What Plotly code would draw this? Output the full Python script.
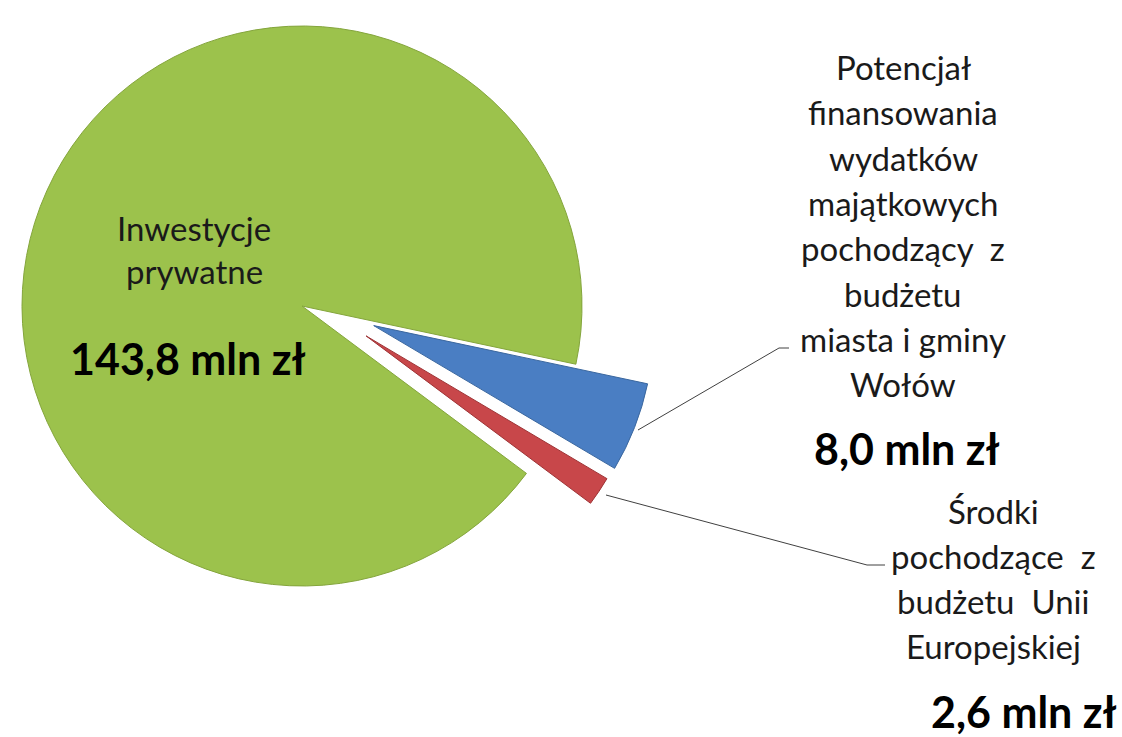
import math
import plotly.graph_objects as go

# ---------------- data ----------------
categories = [
    "Potencjał finansowania wydatków majątkowych pochodzący z budżetu miasta i gminy Wołów",
    "Środki pochodzące z budżetu Unii Europejskiej",
    "Inwestycje prywatne",
]
values = [8.0, 2.6, 143.8]
value_labels = ["8,0 mln zł", "2,6 mln zł", "143,8 mln zł"]
label_lines = [
    ["Potencjał", "finansowania", "wydatków", "majątkowych", "pochodzący  z", "budżetu", "miasta i gminy", "Wołów"],
    ["Środki", "pochodzące  z", "budżetu  Unii", "Europejskiej"],
    ["Inwestycje", "prywatne"],
]
colors = ["#4A7EC3", "#C8474A", "#9CC24C"]
line_colors = ["#3A679F", "#9E3335", "#84A53C"]

# ---------------- layout helpers ----------------
W, H = 1122, 737
CX, CY = 302, 306        # pie centre (px)
R = 280                  # pie radius (px)
ROT = 102                # start angle of first slice (deg, clockwise from 12 o'clock)
PULL_PX = 77             # explode distance of small slices
TILT = 0.7               # vertical flattening of the explode offset

def fx(x):
    return x / W

def fy(y):
    return 1 - y / H

total = sum(values)
starts = []
acc = 0.0
for v in values:
    starts.append(acc)
    acc += v

pulled = [True, True, False]

fig = go.Figure()
for i in range(len(values)):
    mid = ROT + (starts[i] + values[i] / 2) / total * 360  # deg clockwise from top
    if pulled[i]:
        ang = math.radians(mid - 90)
        ox = PULL_PX * math.cos(ang)
        oy = PULL_PX * math.sin(ang) * TILT
    else:
        ox = oy = 0.0
    cx, cy = CX + ox, CY + oy
    cols = ["rgba(0,0,0,0)"] * len(values)
    lcols = ["rgba(0,0,0,0)"] * len(values)
    cols[i] = colors[i]
    lcols[i] = line_colors[i]
    fig.add_trace(go.Pie(
        labels=categories,
        values=values,
        sort=False,
        direction="clockwise",
        rotation=ROT,
        marker=dict(colors=cols, line=dict(color=lcols, width=1)),
        textinfo="none",
        hoverinfo="label+value",
        showlegend=False,
        domain=dict(x=[fx(cx - R), fx(cx + R)], y=[fy(cy + R), fy(cy - R)]),
    ))

annotations = []
REG = dict(family="Lato, 'Open Sans', sans-serif", size=33, color="#1a1a1a")
BOLD = dict(family="Lato, 'Open Sans', sans-serif", size=43, color="#000000")
REG_SHIFT = -3
BOLD_SHIFT = -6

def add_block(lines, x, y0, step):
    for k, t in enumerate(lines):
        annotations.append(dict(x=fx(x), y=fy(y0 + k * step + REG_SHIFT), xref="paper", yref="paper",
                                text=t, showarrow=False, xanchor="center", yanchor="middle",
                                font=REG))

def add_value(t, x, y):
    annotations.append(dict(x=fx(x), y=fy(y + BOLD_SHIFT), xref="paper", yref="paper",
                            text="<b>" + t + "</b>", showarrow=False,
                            xanchor="center", yanchor="middle", font=BOLD))

# blue slice label
add_block(label_lines[0], 903, 70, 45.3)
add_value(value_labels[0], 907, 454)
# red slice label
add_block(label_lines[1], 993, 514, 45)
add_value(value_labels[1], 1024, 717)
# green slice label
add_block(label_lines[2], 194, 231, 43)
add_value(value_labels[2], 188, 364)

# leader lines
leaders = [
    [(638, 430), (779, 348), (789, 348)],
    [(606, 495), (867, 565), (885, 565)],
]
shapes = []
for pts in leaders:
    path = "M " + " L ".join(f"{fx(x)},{fy(y)}" for x, y in pts)
    shapes.append(dict(type="path", xref="paper", yref="paper", path=path,
                       line=dict(color="#404040", width=1)))

fig.update_layout(
    width=W, height=H,
    margin=dict(l=0, r=0, t=0, b=0),
    paper_bgcolor="white", plot_bgcolor="white",
    annotations=annotations, shapes=shapes,
    showlegend=False,
)

fig.write_html("out.html", config={"displayModeBar": False},
               post_script="document.body.style.margin='0';")
